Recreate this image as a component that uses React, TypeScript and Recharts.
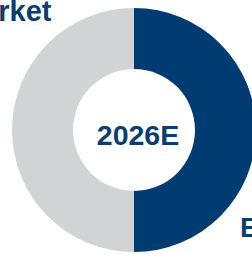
import React from 'react';
import { PieChart, Pie, Cell } from 'recharts';

const categories = ['Segment', 'Rest'];
const values = [50, 50];
const colors = ['#003B71', '#D1D3D4'];
const centerLabel = '2026E';
const titleText = 'Market';
const sideLabel = 'E';

const data = categories.map((name, i) => ({ name, value: values[i] }));

const FONT = 'Liberation Sans, Arial, sans-serif';

export default function App() {
  return (
    <div style={{ position: 'absolute', left: 0, top: 0, width: 252, height: 254, overflow: 'hidden', background: '#fff' }}>
      <PieChart width={252} height={254} margin={{ top: 0, right: 0, bottom: 0, left: 0 }}>
        <Pie
          data={data}
          dataKey="value"
          nameKey="name"
          cx={134}
          cy={130}
          innerRadius={61}
          outerRadius={122}
          startAngle={90}
          endAngle={-270}
          stroke="none"
          isAnimationActive={false}
        >
          {data.map((d, i) => (
            <Cell key={d.name} fill={colors[i]} />
          ))}
        </Pie>
      </PieChart>
      <svg width={252} height={254} style={{ position: 'absolute', left: 0, top: 0, pointerEvents: 'none' }}>
        <text x={-42} y={21} fill="#0B3D6F" fontFamily={FONT} fontWeight={700} fontSize={29}>{titleText}</text>
        <text x={138} y={145} textAnchor="middle" fill="#0B3D6F" fontFamily={FONT} fontWeight={700} fontSize={28.5}>{centerLabel}</text>
        <text x={240} y={237} fill="#0B3D6F" fontFamily={FONT} fontWeight={700} fontSize={28}>{sideLabel}</text>
      </svg>
    </div>
  );
}
